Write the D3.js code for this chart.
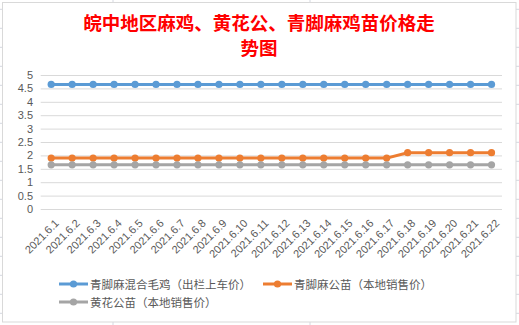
<!DOCTYPE html>
<html><head><meta charset="utf-8">
<script src="https://cdn.jsdelivr.net/npm/d3@7"></script>
<style>
html,body{margin:0;padding:0;background:#fff;}
svg{display:block;}
</style>
</head><body>
<svg id="c" width="519" height="325"></svg>
<script>
const categories = ["2021.6.1","2021.6.2","2021.6.3","2021.6.4","2021.6.5","2021.6.6","2021.6.7","2021.6.8","2021.6.9","2021.6.10","2021.6.11","2021.6.12","2021.6.13","2021.6.14","2021.6.15","2021.6.16","2021.6.17","2021.6.18","2021.6.19","2021.6.20","2021.6.21","2021.6.22"];
const blueValues   = [4.65,4.65,4.65,4.65,4.65,4.65,4.65,4.65,4.65,4.65,4.65,4.65,4.65,4.65,4.65,4.65,4.65,4.65,4.65,4.65,4.65,4.65];
const orangeValues = [1.9,1.9,1.9,1.9,1.9,1.9,1.9,1.9,1.9,1.9,1.9,1.9,1.9,1.9,1.9,1.9,1.9,2.1,2.1,2.1,2.1,2.1];
const grayValues   = [1.65,1.65,1.65,1.65,1.65,1.65,1.65,1.65,1.65,1.65,1.65,1.65,1.65,1.65,1.65,1.65,1.65,1.65,1.65,1.65,1.65,1.65];
const seriesNames = ["青脚麻混合毛鸡（出栏上车价）","青脚麻公苗（本地销售价）","黄花公苗（本地销售价）"];
const yTicks = [0,0.5,1,1.5,2,2.5,3,3.5,4,4.5,5];
const titleLines = ["皖中地区麻鸡、黄花公、青脚麻鸡苗价格走","势图"];

const series = [
  {name: seriesNames[0], values: blueValues, color: "#5B9BD5"},
  {name: seriesNames[1], values: orangeValues, color: "#ED7D31"},
  {name: seriesNames[2], values: grayValues, color: "#A5A5A5"}
];

const svg = d3.select("#c");
const W = 519, H = 325;

// Excel sheet gridlines behind chart
const bg = svg.append("g");
d3.range(0, 18).forEach(i => {
  const y = 9.3 + i * 19.0;
  bg.append("line").attr("x1",0).attr("x2",W).attr("y1",y).attr("y2",y).attr("stroke","#d4d7e0").attr("stroke-width",1);
});
[113, 310].forEach(x => bg.append("line").attr("x1",x).attr("x2",x).attr("y1",0).attr("y2",H).attr("stroke","#d4d7e0").attr("stroke-width",1));

// Chart area
svg.append("rect").attr("x",2.5).attr("y",2.5).attr("width",513.5).attr("height",319.5)
  .attr("fill","#fff").attr("stroke","#d9d9d9").attr("stroke-width",1);

const fontCJK = "'Noto Sans CJK SC','Noto Sans',sans-serif";

// Title
svg.append("g").selectAll("text").data(titleLines).join("text")
  .attr("x", 259).attr("y", (d,i) => 22 + i*25)
  .attr("text-anchor","middle").attr("dominant-baseline","central")
  .attr("fill","#FF0000").attr("font-weight","bold")
  .attr("font-family", fontCJK).attr("font-size","18.5px")
  .text(d => d);

const x = d3.scalePoint().domain(categories).range([40.7, 502]).padding(0.5);
const y = d3.scaleLinear().domain([0,5]).range([209, 75]);

// gridlines
svg.append("g").attr("transform","translate(40.7,0)")
  .call(d3.axisLeft(y).tickValues(yTicks).tickSize(-(502-40.7)).tickFormat(""))
  .call(g => g.select(".domain").remove())
  .call(g => g.selectAll("line").attr("stroke","#d9d9d9").attr("stroke-width",1));

// y labels
svg.append("g").attr("transform","translate(33,0)")
  .call(d3.axisLeft(y).tickValues(yTicks).tickSize(0).tickPadding(0).tickFormat(d3.format("")))
  .call(g => g.select(".domain").remove())
  .call(g => g.selectAll("text").attr("fill","#595959").attr("font-size","11px")
     .attr("font-family","'Liberation Sans','DejaVu Sans',sans-serif"));

// x labels
const xa = svg.append("g").attr("transform","translate(0,213)")
  .call(d3.axisBottom(x).tickSize(0).tickPadding(0));
xa.select(".domain").remove();
xa.selectAll("text")
  .attr("fill","#595959").attr("font-size","11px")
  .attr("font-family","'Liberation Sans','DejaVu Sans',sans-serif")
  .attr("text-anchor","end").attr("dy","0").attr("y",0)
  .attr("transform","translate(8,11) rotate(-45)");

// lines
const line = d3.line().x((d,i) => x(categories[i])).y(d => y(d));
series.forEach(s => {
  const g = svg.append("g");
  g.append("path").datum(s.values).attr("d", line).attr("fill","none")
    .attr("stroke", s.color).attr("stroke-width",3).attr("stroke-linejoin","round");
  g.selectAll("circle").data(s.values).join("circle")
    .attr("cx",(d,i)=>x(categories[i])).attr("cy",d=>y(d)).attr("r",3.6).attr("fill",s.color);
});

// legend
const legendPos = [[59,284],[263,284],[59,302]];
series.forEach((s,i) => {
  const [lx,ly] = legendPos[i];
  const g = svg.append("g").attr("transform",`translate(${lx},${ly})`);
  g.append("line").attr("x1",0).attr("x2",29).attr("y1",0).attr("y2",0).attr("stroke",s.color).attr("stroke-width",3);
  g.append("circle").attr("cx",14.5).attr("cy",0).attr("r",3.6).attr("fill",s.color);
  g.append("text").attr("x",31).attr("y",0).attr("dominant-baseline","central")
    .attr("fill","#595959").attr("font-size","11.5px").attr("font-family",fontCJK).text(s.name);
});
</script>
</body></html>
